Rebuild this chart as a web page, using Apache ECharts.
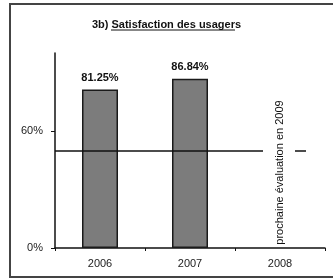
<!DOCTYPE html>
<html>
<head>
<meta charset="utf-8">
<script src="https://cdn.jsdelivr.net/npm/echarts@6/dist/echarts.min.js"></script>
<style>
  html, body { margin: 0; padding: 0; background: #fff; }
  #chart { width: 333px; height: 279px; }
</style>
</head>
<body>
<div id="chart"></div>
<script>
// données
var years = ['2006', '2007', '2008'];
var satisfaction = [81.25, 86.84, '-'];
var yTicks = [0, 60];
var objectif = 50;
var noteText = 'prochaine évaluation en 2009';
var titleText = '3b) Satisfaction des usagers';

var myChart = echarts.init(document.getElementById('chart'));
var font = 'Liberation Sans, Arial, sans-serif';

var option = {
  animation: false,
  backgroundColor: '#fff',
  title: {
    text: titleText,
    left: 'center',
    top: 14,
    textStyle: { fontFamily: font, fontSize: 11, fontWeight: 'bold', color: '#111' }
  },
  grid: { left: 55, right: 8, top: 53, bottom: 31 },
  xAxis: {
    type: 'category',
    data: years,
    axisLine: { lineStyle: { color: '#111', width: 1.5 } },
    axisTick: { show: true, length: 3, lineStyle: { color: '#111' } },
    axisLabel: { fontFamily: font, fontSize: 11, color: '#222', margin: 10 }
  },
  yAxis: {
    type: 'value',
    min: 0,
    max: 100,
    axisLine: { show: true, lineStyle: { color: '#111', width: 1.5 } },
    axisTick: { show: true, length: 4, customValues: yTicks, lineStyle: { color: '#111' } },
    axisLabel: {
      customValues: yTicks,
      fontFamily: font, fontSize: 11, color: '#222', margin: 12,
      formatter: '{value}%'
    },
    splitLine: { show: false }
  },
  series: [
    {
      type: 'bar',
      data: satisfaction,
      barWidth: '40%',
      itemStyle: { color: '#7c7c7c', borderColor: '#1a1a1a', borderWidth: 1.5 },
      label: {
        show: true,
        position: 'top',
        distance: 6,
        fontFamily: font,
        fontSize: 11,
        fontWeight: 'bold',
        color: '#111',
        formatter: function (p) { return p.value.toFixed(2) + '%'; }
      },
      markLine: {
        silent: true,
        symbol: 'none',
        label: { show: false },
        lineStyle: { color: '#111', width: 1.5, type: 'solid' },
        data: [{ yAxis: objectif }]
      }
    }
  ]
};
myChart.setOption(option);

// texte vertical + soulignement du titre + cadre
var p = myChart.convertToPixel({ xAxisIndex: 0, yAxisIndex: 0 }, ['2008', objectif]);
myChart.setOption({
  graphic: [
    {
      type: 'rect',
      shape: { x: p[0] - 17, y: p[1] - 3, width: 32, height: 6 },
      style: { fill: '#fff' },
      z: 90
    },
    {
      type: 'rect',
      shape: { x: p[0] + 26, y: p[1] - 3, width: 30, height: 6 },
      style: { fill: '#fff' },
      z: 90
    },
    {
      type: 'rect',
      shape: { x: 10, y: 4, width: 340, height: 273 },
      style: { fill: 'none', stroke: '#444', lineWidth: 2 },
      z: 100
    },
    {
      type: 'line',
      shape: { x1: 111, y1: 30, x2: 235, y2: 30 },
      style: { stroke: '#111', lineWidth: 1 },
      z: 100
    },
    {
      type: 'text',
      x: p[0],
      y: p[1] + 22,
      rotation: Math.PI / 2,
      style: {
        text: noteText,
        fontFamily: font,
        fontSize: 11,
        fill: '#111',
        align: 'center',
        verticalAlign: 'middle'
      },
      z: 100
    }
  ]
});
</script>
</body>
</html>
